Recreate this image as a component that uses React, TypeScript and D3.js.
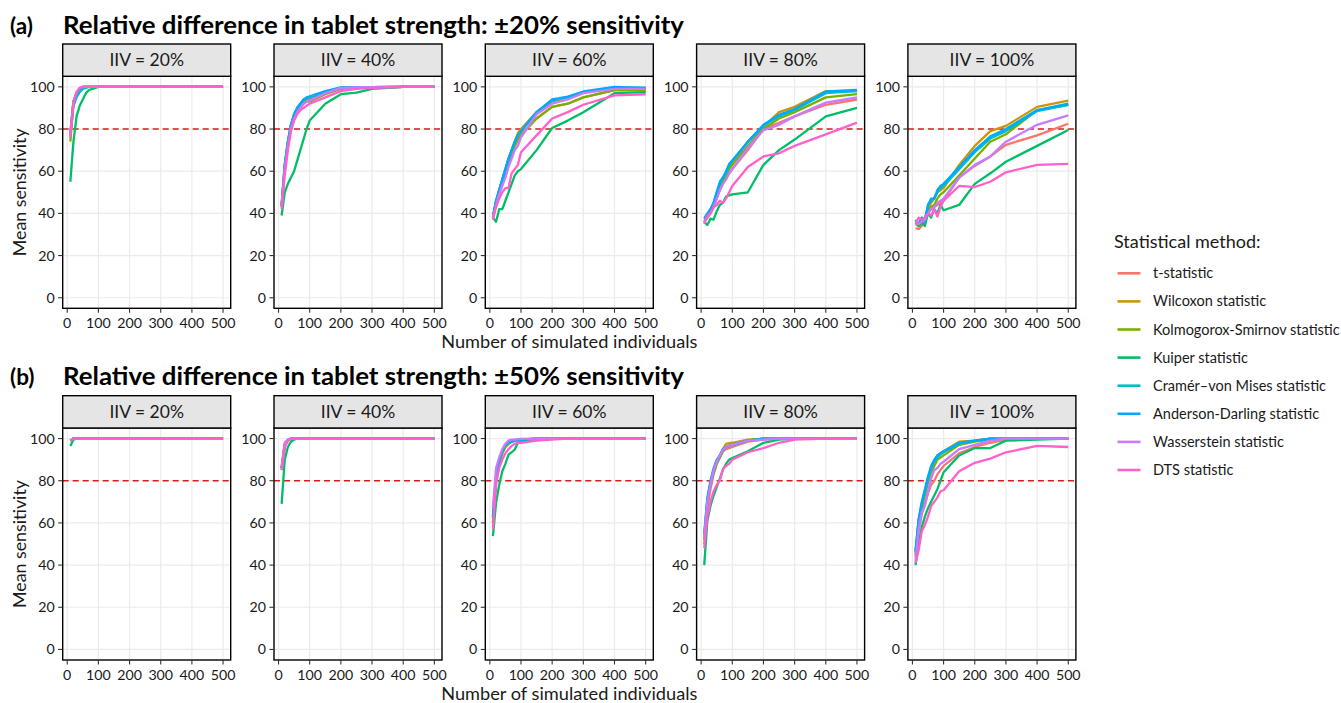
import React from 'react';
import * as d3 from 'd3';

const N = [10, 20, 30, 40, 50, 60, 70, 80, 90, 100, 150, 200, 250, 300, 400, 500];
const METHODS = [
  't-statistic',
  'Wilcoxon statistic',
  'Kolmogorox-Smirnov statistic',
  'Kuiper statistic',
  'Cramér–von Mises statistic',
  'Anderson-Darling statistic',
  'Wasserstein statistic',
  'DTS statistic',
];
const COLORS = ['#F8766D', '#CD9600', '#7CAE00', '#00BE67', '#00BFC4', '#00A9FF', '#C77CFF', '#FF61CC'];
const IIV_LABELS = ['IIV = 20%', 'IIV = 40%', 'IIV = 60%', 'IIV = 80%', 'IIV = 100%'];
const X_TICKS = [0, 100, 200, 300, 400, 500];
const Y_TICKS = [0, 20, 40, 60, 80, 100];
const THRESHOLD = 80;
const TITLES = [
  'Relative difference in tablet strength: ±20% sensitivity',
  'Relative difference in tablet strength: ±50% sensitivity',
];
const TAGS = ['(a)', '(b)'];

// (a) ±20%
const A20: number[][] = [
  [78, 93, 97, 99, 100, 100, 100, 100, 100, 100, 100, 100, 100, 100, 100, 100],
  [76, 93, 97, 99, 100, 100, 100, 100, 100, 100, 100, 100, 100, 100, 100, 100],
  [74, 92, 97, 99, 100, 100, 100, 100, 100, 100, 100, 100, 100, 100, 100, 100],
  [55, 74, 86, 91, 94, 97, 98.5, 99, 99.5, 100, 100, 100, 100, 100, 100, 100],
  [77, 91, 95, 97.5, 99, 99.5, 100, 100, 100, 100, 100, 100, 100, 100, 100, 100],
  [78, 93, 97, 99, 100, 100, 100, 100, 100, 100, 100, 100, 100, 100, 100, 100],
  [78, 93, 97.5, 99.5, 100, 100, 100, 100, 100, 100, 100, 100, 100, 100, 100, 100],
  [76, 93, 97.5, 99.5, 100, 100, 100, 100, 100, 100, 100, 100, 100, 100, 100, 100],
];
const A40: number[][] = [
  [43, 62, 73, 81, 86, 89, 91, 93, 94, 94, 97, 99.5, 99.7, 99.8, 100, 100],
  [44, 63, 74, 82, 87, 90, 92, 93.5, 94.5, 94.5, 97, 99.5, 99.7, 99.8, 100, 100],
  [43, 61, 72, 80, 85, 88, 90, 92, 93, 93, 96.5, 99, 99.5, 99.8, 100, 100],
  [39, 50, 54, 57, 60, 65, 70, 75, 80, 84, 92, 96.5, 97.3, 99, 100, 100],
  [44, 63, 74, 82, 87, 90, 92, 93.5, 94.5, 95, 97.5, 99.5, 99.7, 99.8, 100, 100],
  [44, 63, 74, 82, 87, 90, 92, 94, 95, 95.5, 98, 99.7, 99.8, 99.9, 100, 100],
  [43, 61, 72, 80, 85, 88, 90, 92, 93, 93.5, 97, 99.5, 99.7, 99.8, 100, 100],
  [42, 58, 70, 79, 84, 87, 89, 90, 91, 92, 95, 98, 99, 99.5, 100, 100],
];
const A60: number[][] = [
  [38, 45, 50, 55, 60, 64, 68, 72, 75, 78, 85, 90.5, 92, 95, 98.5, 98.5],
  [38, 46, 51, 56, 61, 66, 70, 74, 78, 80, 88, 93, 95, 97.5, 99.5, 99.5],
  [38, 45, 50, 55, 60, 64, 68, 72, 75, 77, 85, 90.5, 92, 95, 98.5, 98.5],
  [38, 36, 42, 42, 46, 50, 54, 58, 60, 61, 70, 80.5, 84, 88, 97, 97.5],
  [38.5, 46, 51, 56, 61, 66, 70, 74, 77, 79, 88, 93.5, 95, 97.5, 99.5, 99.5],
  [38.5, 46, 51, 56, 61, 66, 70, 74, 77, 79, 88, 94, 95.4, 97.8, 100, 99.5],
  [38, 44, 49, 53, 57, 62, 66, 70, 72, 76, 87, 92, 94, 97, 99, 99],
  [37, 43, 47, 50, 52, 52, 59, 61, 63, 69, 77, 85, 88, 91.5, 96, 96.5],
];
const A80: number[][] = [
  [36, 38, 40, 43, 47, 51, 54, 57, 59, 61, 70, 80, 83, 86, 91.5, 94],
  [36, 38, 40, 44, 48, 53, 56, 59, 62, 64, 74, 81, 88, 90.5, 98, 98],
  [36, 38, 41, 44, 48, 52, 55, 58, 61, 63, 72, 80, 85, 88, 95, 96.5],
  [36, 34.5, 37.5, 37, 41, 44, 45, 48, 48.5, 49, 50, 63, 70, 75, 86, 90],
  [37, 39, 42, 45, 50, 54, 57, 59, 63, 65, 74, 81.5, 86, 89, 97, 98],
  [37.7, 40, 42, 45, 50, 55, 57, 60, 63.5, 65, 74, 82, 86.7, 89.5, 97.8, 98.5],
  [36, 38, 40, 43, 47, 51, 54, 56, 59, 61, 71, 79.5, 82, 86, 92.5, 95],
  [35, 39, 40, 43, 44, 46, 45, 47, 50, 53, 62, 67, 68.5, 72, 77.5, 83],
];
const A100: number[][] = [
  [33, 32.5, 34, 37, 40, 42, 43, 44, 45, 46, 57, 62.5, 67, 72.5, 77, 82.5],
  [35, 35, 37, 38, 42, 45, 47, 50, 51, 52, 63, 72, 79, 81.5, 90.5, 93.5],
  [35, 34, 35, 37, 41, 43, 44, 47, 49, 50, 58, 66, 74, 77.5, 89, 91.5],
  [37, 34, 36, 34, 40, 38, 42, 40, 44, 41.5, 44, 54, 59, 64.5, 72, 79.5],
  [36, 35, 38, 37, 44, 46, 47, 50, 52, 53, 61, 69, 75.5, 79, 88.5, 91.5],
  [36, 35, 38, 36, 44, 47, 47, 51, 53, 54, 62, 70, 76.5, 80, 89, 92],
  [35, 35, 36, 37, 40, 42, 43, 45, 46, 47, 57, 63, 67, 74, 82, 86.5],
  [35, 38, 37, 38, 40, 39, 42, 38.5, 43, 46, 53, 52.5, 55, 59.5, 63, 63.5],
];

// (b) ±50%
const B20: number[][] = [
  [99, 100, 100, 100, 100, 100, 100, 100, 100, 100, 100, 100, 100, 100, 100, 100],
  [99, 100, 100, 100, 100, 100, 100, 100, 100, 100, 100, 100, 100, 100, 100, 100],
  [99, 100, 100, 100, 100, 100, 100, 100, 100, 100, 100, 100, 100, 100, 100, 100],
  [96.5, 99.5, 100, 100, 100, 100, 100, 100, 100, 100, 100, 100, 100, 100, 100, 100],
  [99, 100, 100, 100, 100, 100, 100, 100, 100, 100, 100, 100, 100, 100, 100, 100],
  [99, 100, 100, 100, 100, 100, 100, 100, 100, 100, 100, 100, 100, 100, 100, 100],
  [99, 100, 100, 100, 100, 100, 100, 100, 100, 100, 100, 100, 100, 100, 100, 100],
  [99, 100, 100, 100, 100, 100, 100, 100, 100, 100, 100, 100, 100, 100, 100, 100],
];
const B40: number[][] = [
  [86, 97, 99, 100, 100, 100, 100, 100, 100, 100, 100, 100, 100, 100, 100, 100],
  [86, 97, 99, 100, 100, 100, 100, 100, 100, 100, 100, 100, 100, 100, 100, 100],
  [85, 97, 99, 100, 100, 100, 100, 100, 100, 100, 100, 100, 100, 100, 100, 100],
  [69, 90, 96, 98.5, 99.5, 100, 100, 100, 100, 100, 100, 100, 100, 100, 100, 100],
  [86, 97, 99, 100, 100, 100, 100, 100, 100, 100, 100, 100, 100, 100, 100, 100],
  [86, 97.5, 99.5, 100, 100, 100, 100, 100, 100, 100, 100, 100, 100, 100, 100, 100],
  [87, 98, 99.5, 100, 100, 100, 100, 100, 100, 100, 100, 100, 100, 100, 100, 100],
  [85, 96, 99, 100, 100, 100, 100, 100, 100, 100, 100, 100, 100, 100, 100, 100],
];
const B60: number[][] = [
  [60, 80, 88, 93, 96, 97.5, 98.5, 99, 99, 99.5, 100, 100, 100, 100, 100, 100],
  [62, 81, 89, 94, 97, 98, 98.5, 99, 99.5, 99.5, 100, 100, 100, 100, 100, 100],
  [60, 80, 88, 93, 96, 97.5, 98.5, 99, 99, 99.5, 100, 100, 100, 100, 100, 100],
  [53.7, 69.5, 78, 84.5, 88, 92.4, 93.5, 94.8, 98, 98.5, 99.5, 100, 100, 100, 100, 100],
  [63, 82, 90, 94, 97, 98, 98.5, 99, 99.5, 99.5, 100, 100, 100, 100, 100, 100],
  [63, 82, 90, 94, 97, 98, 98.5, 99, 99.5, 99.5, 100, 100, 100, 100, 100, 100],
  [67, 86, 91, 95, 97.5, 99, 99.5, 99.5, 99.7, 99.8, 100, 100, 100, 100, 100, 100],
  [57, 78, 86, 90, 93, 95, 96.5, 97.5, 98, 98, 99, 99.5, 100, 100, 100, 100],
];
const B80: number[][] = [
  [50, 67, 76, 83, 88, 91, 94, 95, 95.5, 96, 98.5, 99.5, 100, 100, 100, 100],
  [53, 70, 79, 85, 89, 92, 95, 97.5, 97.8, 98, 99.5, 100, 100, 100, 100, 100],
  [52, 69, 78, 84, 88, 91, 94, 96, 96.5, 97, 99, 100, 100, 100, 100, 100],
  [40, 61, 68, 73, 77, 81, 85.3, 88, 90, 90.8, 94, 98, 99.5, 100, 100, 100],
  [54, 71, 79, 85, 89, 92, 95, 96, 96.5, 97, 99, 100, 100, 100, 100, 100],
  [55, 72, 80, 86, 90, 92, 95, 96, 96.5, 97, 99, 100, 100, 100, 100, 100],
  [53, 70, 78, 85, 89, 92, 94.5, 96, 96.5, 97, 99, 99.5, 100, 100, 100, 100],
  [48, 63, 70, 75, 78, 80, 85.5, 87, 88, 90, 93.5, 95.5, 98, 99.5, 100, 100],
];
const B100: number[][] = [
  [44, 56, 64, 69, 74, 78, 80, 83, 85, 87, 93, 96, 98, 99.5, 100, 100],
  [46, 61, 69, 75, 81, 86, 89, 92, 93, 94, 98.5, 99, 100, 100, 100, 100],
  [45, 59, 67, 73, 79, 84, 87, 90, 91, 92, 97, 98.5, 99.5, 100, 100, 100],
  [40, 50, 58, 63, 67, 70, 73, 76, 80, 84, 92, 95.5, 95.5, 99, 99.5, 100],
  [46, 61, 69, 75, 81, 86, 89, 91, 92.5, 93.5, 97.5, 99, 100, 100, 100, 100],
  [47, 62, 70, 76, 82, 87, 90, 92, 93, 94, 98, 99, 100, 100, 100, 100],
  [42, 57, 65, 68, 75, 81, 85, 86, 88, 89, 95, 97, 99, 100, 100, 100],
  [41, 47, 56, 59, 63, 68, 70, 72, 75, 75.5, 84.5, 88.5, 90.5, 93.5, 96.5, 96],
];

const ROWS = [
  [A20, A40, A60, A80, A100],
  [B20, B40, B60, B80, B100],
];

const FONT = "Lato, 'Open Sans', 'DejaVu Sans', sans-serif";
const PANEL_LEFT0 = 62.7;
const PANEL_STEP = 211.3;
const PW = 168;
const STRIP = 32.3;
const PH = 232;
const ROW_TOP = [44, 395.7];
const TEXT = '#1a1a1a';

function Panel({ left, top, data, label }: { left: number; top: number; data: number[][]; label: string }) {
  const plotTop = top + STRIP;
  const plotBottom = plotTop + PH;
  const x = d3.scaleLinear().domain([-14.5, 524.5]).range([left, left + PW]);
  const y = d3.scaleLinear().domain([-5, 105]).range([plotBottom, plotTop]);
  const line = d3
    .line<number>()
    .x((_, i) => x(N[i]))
    .y((d) => y(d));
  return (
    <g>
      <rect x={left} y={plotTop} width={PW} height={PH} fill="#fff" />
      {Y_TICKS.map((t) => (
        <line key={'gy' + t} x1={left} x2={left + PW} y1={y(t)} y2={y(t)} stroke="#EBEBEB" strokeWidth={1.2} />
      ))}
      {X_TICKS.map((t) => (
        <line key={'gx' + t} x1={x(t)} x2={x(t)} y1={plotTop} y2={plotBottom} stroke="#EBEBEB" strokeWidth={1.2} />
      ))}
      <line
        x1={left}
        x2={left + PW}
        y1={y(THRESHOLD)}
        y2={y(THRESHOLD)}
        stroke="#D11F1F"
        strokeWidth={1.4}
        strokeDasharray="6,4"
      />
      {data.map((s, i) => (
        <path key={'s' + i} d={line(s) || ''} fill="none" stroke={COLORS[i]} strokeWidth={2.3} strokeLinejoin="round" />
      ))}
      <rect x={left} y={plotTop} width={PW} height={PH} fill="none" stroke="#000" strokeWidth={1.4} />
      <rect x={left} y={top} width={PW} height={STRIP} fill="#E5E5E5" stroke="#000" strokeWidth={1.4} />
      <text
        x={left + PW / 2}
        y={top + STRIP / 2 + 6}
        textAnchor="middle"
        fontSize={17.5}
        fill={TEXT}
        fontFamily={FONT}
      >
        {label}
      </text>
      {Y_TICKS.map((t) => (
        <g key={'ty' + t}>
          <line x1={left - 4.5} x2={left} y1={y(t)} y2={y(t)} stroke="#333" strokeWidth={1.1} />
          <text x={left - 8} y={y(t) + 5} textAnchor="end" fontSize={14.2} fill={TEXT} fontFamily={FONT}>
            {t}
          </text>
        </g>
      ))}
      {X_TICKS.map((t) => (
        <g key={'tx' + t}>
          <line x1={x(t)} x2={x(t)} y1={plotBottom} y2={plotBottom + 4.5} stroke="#333" strokeWidth={1.1} />
          <text x={x(t)} y={plotBottom + 19.5} textAnchor="middle" fontSize={14.2} fill={TEXT} fontFamily={FONT}>
            {t}
          </text>
        </g>
      ))}
    </g>
  );
}

export default function App() {
  const W = 1341;
  const H = 703;
  const panelsRight = PANEL_LEFT0 + PANEL_STEP * 4 + PW;
  const centerX = (PANEL_LEFT0 + panelsRight) / 2;
  return (
    <svg
      width={W}
      height={H}
      style={{ position: 'absolute', left: 0, top: 0, background: '#fff' }}
      fontFamily={FONT}
    >
      <rect x={0} y={0} width={W} height={H} fill="#fff" />
      {ROWS.map((row, r) => {
        const top = ROW_TOP[r];
        const plotTop = top + STRIP;
        const plotBottom = plotTop + PH;
        return (
          <g key={'row' + r}>
            <text x={10} y={top - 10.5} fontSize={22.5} fontWeight="bold" fill="#000">
              {TAGS[r]}
            </text>
            <text x={63} y={top - 10.5} fontSize={24} fontWeight="bold" fill="#000" textLength={621} lengthAdjust="spacingAndGlyphs">
              {TITLES[r]}
            </text>
            {row.map((data, i) => (
              <Panel key={i} left={PANEL_LEFT0 + PANEL_STEP * i} top={top} data={data} label={IIV_LABELS[i]} />
            ))}
            <text x={centerX} y={plotBottom + 39.5} textAnchor="middle" fontSize={18.2} fill={TEXT}>
              Number of simulated individuals
            </text>
            <text
              transform={`translate(${25.5},${(plotTop + plotBottom) / 2}) rotate(-90)`}
              textAnchor="middle"
              fontSize={17.8}
              fill={TEXT}
            >
              Mean sensitivity
            </text>
          </g>
        );
      })}
      <g>
        <text x={1114} y={247.5} fontSize={18} fill={TEXT}>
          Statistical method:
        </text>
        {METHODS.map((m, i) => {
          const cy = 273.3 + i * 28.1;
          return (
            <g key={'leg' + i}>
              <line x1={1117.5} x2={1140.5} y1={cy} y2={cy} stroke={COLORS[i]} strokeWidth={2.6} />
              <text x={1153} y={cy + 5} fontSize={14.5} fill={TEXT}>
                {m}
              </text>
            </g>
          );
        })}
      </g>
    </svg>
  );
}
